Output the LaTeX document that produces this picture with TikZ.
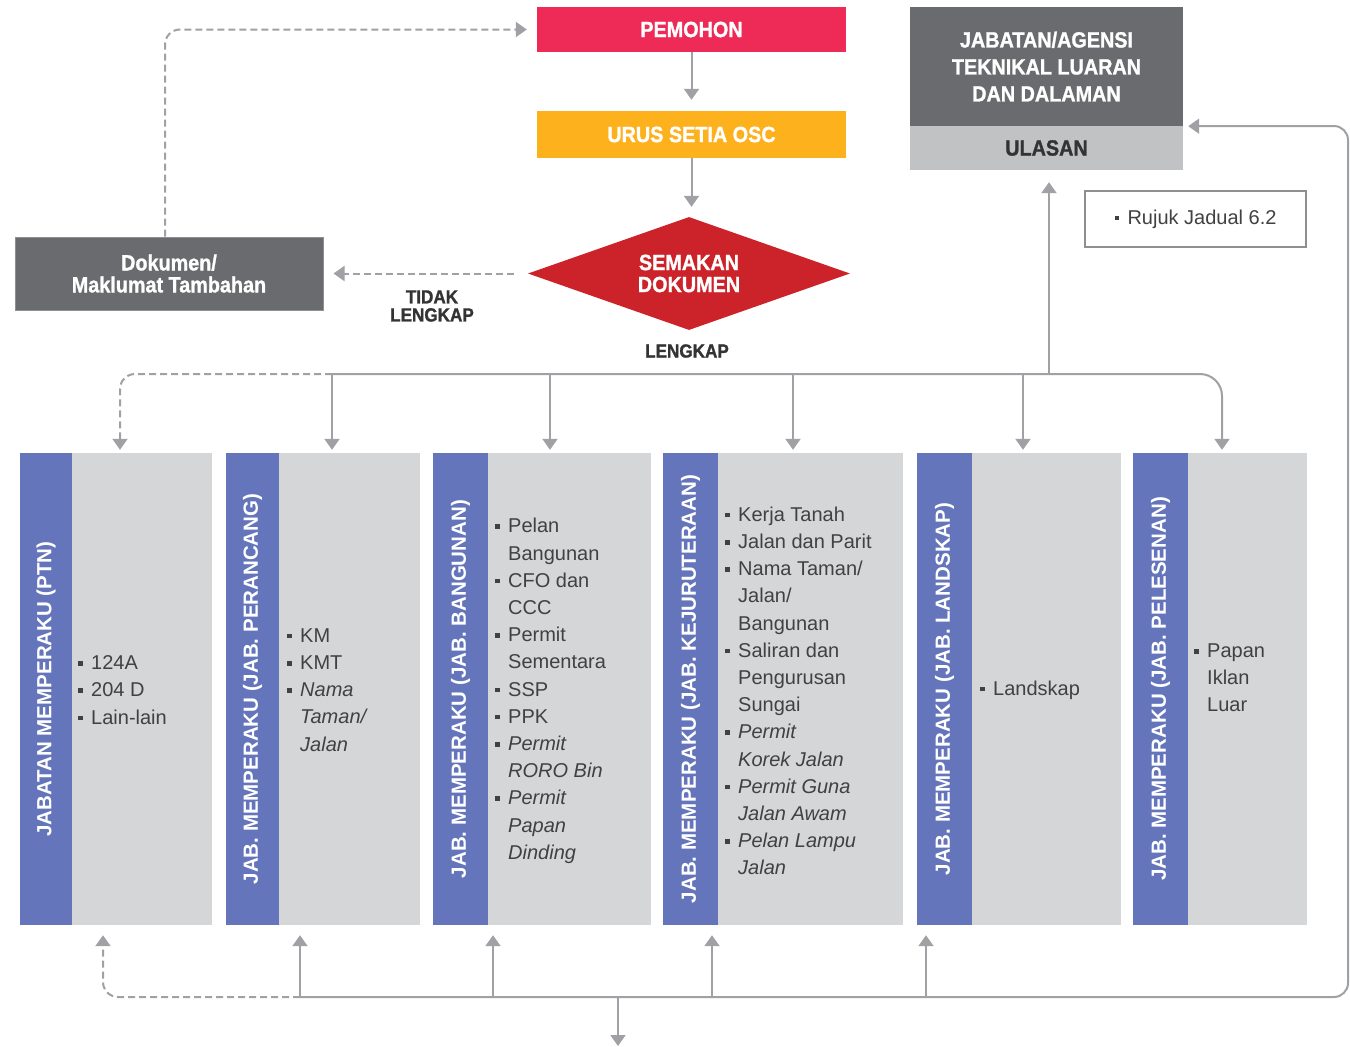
\documentclass[tikz,border=0pt]{standalone}
\usepackage{fontspec}
\setmainfont{Liberation Sans}
\newfontfamily\hb[FakeStretch=0.9,FakeBold=1.2]{Liberation Sans}
\usetikzlibrary{arrows.meta,shapes.geometric}
\definecolor{pemc}{HTML}{EE2A56}
\definecolor{oscc}{HTML}{FDB11D}
\definecolor{semc}{HTML}{CC2229}
\definecolor{dgr}{HTML}{6A6B6E}
\definecolor{lgr}{HTML}{C1C2C4}
\definecolor{blu}{HTML}{6575BB}
\definecolor{cgr}{HTML}{D5D6D8}
\definecolor{lnc}{HTML}{A0A1A4}
\definecolor{txt}{HTML}{414042}
\definecolor{lbl}{HTML}{333333}
\definecolor{brd}{HTML}{8E8F91}
\newlength\bw \setlength\bw{13pt}
\newcommand\bl{\makebox[\bw][l]{\rule[4pt]{4.5pt}{4.5pt}}}
\newcommand\ct{\hspace*{\bw}}
\begin{document}
\begin{tikzpicture}[x=1pt,y=-1pt,
 box/.style={inner sep=0pt, align=center, text=white},
 head/.style={font=\hb\bfseries\fontsize{22}{24}\selectfont},
 arr/.style={draw=lnc, line width=2pt, -{Triangle[width=15pt,length=11pt]}},
 darr/.style={arr, dash pattern=on 7pt off 4pt},
 stripbox/.style={fill=blu, inner sep=0pt, minimum height=472pt},
 bodybox/.style={fill=cgr, inner sep=0pt, minimum height=472pt},
 vlab/.style={rotate=90, text=white, font=\bfseries\fontsize{20.5}{22}\selectfont, inner sep=0pt},
 items/.style={anchor=west, align=left, text=txt, font=\fontsize{20}{27.2}\selectfont, inner sep=0pt},
 lab/.style={text=lbl, align=center, font=\hb\bfseries\fontsize{19}{18}\selectfont, inner sep=0pt}]
\useasboundingbox (0,0) rectangle (1350,1047);
\fill[white] (0,0) rectangle (1350,1047);

% top flow
\node[box, head, fill=pemc, minimum width=309pt, minimum height=45pt] (pem) at (691.5,29.5) {PEMOHON};
\node[box, head, fill=oscc, minimum width=309pt, minimum height=47pt] (osc) at (691.5,134.5) {URUS SETIA OSC};
\node[box, fill=semc, diamond, aspect=2.85, minimum width=322pt, minimum height=113pt] (sem) at (689,273.5) {};
\node[box, font=\hb\bfseries\fontsize{22}{22}\selectfont] at (sem) {SEMAKAN\\DOKUMEN};
\node[box, font=\hb\bfseries\fontsize{22}{22}\selectfont, fill=dgr, draw=brd, line width=1pt, minimum width=308pt, minimum height=73pt] (dok) at (169,273.5) {Dokumen/\\Maklumat Tambahan};
\node[lab] (tl) at (432,306) {TIDAK\\LENGKAP};
\node[lab] (lk) at (687,351) {LENGKAP};

\node[box, fill=dgr, minimum width=273pt, minimum height=119pt, font=\hb\bfseries\fontsize{22}{27}\selectfont] (jab) at (1046.5,66.5) {JABATAN/AGENSI\\TEKNIKAL LUARAN\\DAN DALAMAN};
\node[box, fill=lgr, text=lbl, minimum width=273pt, minimum height=44pt, head] (ulas) at (1046.5,148) {ULASAN};
\node[fill=white, draw=brd, line width=1.5pt, inner sep=0pt, minimum width=221pt, minimum height=56pt, text=txt, font=\fontsize{20}{24}\selectfont] (ruj) at (1195.5,219) {\bl Rujuk Jadual 6.2};

% columns
\node[bodybox, minimum width=192pt] (c1) at (116,689) {};
\node[stripbox, minimum width=52pt] (s1) at (46,689) {};
\node[vlab] at (s1) {JABATAN MEMPERAKU (PTN)};
\node[items] (i1) at (78,690) {\bl 124A\\\bl 204 D\\\bl Lain-lain};

\node[bodybox, minimum width=194pt] (c2) at (323,689) {};
\node[stripbox, minimum width=53pt] (s2) at (252.5,689) {};
\node[vlab] at (s2) {JAB. MEMPERAKU (JAB. PERANCANG)};
\node[items] (i2) at (287,690) {\bl KM\\\bl KMT\\\bl\textit{Nama}\\\ct\textit{Taman/}\\\ct\textit{Jalan}};

\node[bodybox, minimum width=218pt] (c3) at (542,689) {};
\node[stripbox, minimum width=55pt] (s3) at (460.5,689) {};
\node[vlab] at (s3) {JAB. MEMPERAKU (JAB. BANGUNAN)};
\node[items] (i3) at (495,691) {\bl Pelan\\\ct Bangunan\\\bl CFO dan\\\ct CCC\\\bl Permit\\\ct Sementara\\\bl SSP\\\bl PPK\\\bl\textit{Permit}\\\ct\textit{RORO Bin}\\\bl\textit{Permit}\\\ct\textit{Papan}\\\ct\textit{Dinding}};

\node[bodybox, minimum width=240pt] (c4) at (783,689) {};
\node[stripbox, minimum width=55pt] (s4) at (690.5,689) {};
\node[vlab] at (s4) {JAB. MEMPERAKU (JAB. KEJURUTERAAN)};
\node[items] (i4) at (725,691) {\bl Kerja Tanah\\\bl Jalan dan Parit\\\bl Nama Taman/\\\ct Jalan/\\\ct Bangunan\\\bl Saliran dan\\\ct Pengurusan\\\ct Sungai\\\bl\textit{Permit}\\\ct\textit{Korek Jalan}\\\bl\textit{Permit Guna}\\\ct\textit{Jalan Awam}\\\bl\textit{Pelan Lampu}\\\ct\textit{Jalan}};

\node[bodybox, minimum width=204pt] (c5) at (1019,689) {};
\node[stripbox, minimum width=55pt] (s5) at (944.5,689) {};
\node[vlab] at (s5) {JAB. MEMPERAKU (JAB. LANDSKAP)};
\node[items] (i5) at (980,690) {\bl Landskap};

\node[bodybox, minimum width=174pt] (c6) at (1220,689) {};
\node[stripbox, minimum width=55pt] (s6) at (1160.5,689) {};
\node[vlab] at (s6) {JAB. MEMPERAKU (JAB. PELESENAN)};
\node[items] (i6) at (1194,678) {\bl Papan\\\ct Iklan\\\ct Luar};

% connectors top
\draw[arr, shorten >=11pt] (pem) -- (osc);
\draw[arr, shorten >=10pt] (osc.south) -- (osc.south |- sem.north);
\draw[darr, shorten <=14pt, shorten >=10pt] (sem.west) -- (dok.east);
\draw[darr, rounded corners=15pt, shorten >=10pt] ([xshift=-4pt]dok.north) -- ([xshift=-4pt]dok.north |- pem.west) -- (pem.west);

% top bus
\coordinate (t0) at (120,374);
\coordinate (t1) at (332,374);
\coordinate (t2) at (550,374);
\coordinate (t3) at (793,374);
\coordinate (tu) at (1049,374);
\coordinate (t4) at (1023,374);
\coordinate (t5) at (1222,374);
\draw[arr, rounded corners=22pt, shorten >=3pt] (t1) -- (t5) -- (t5 |- c6.north);
\draw[darr, rounded corners=15pt, shorten >=3pt] (t1) -- (t0) -- (t0 |- c1.north);
\draw[arr, shorten >=3pt] (t1) -- (t1 |- c2.north);
\draw[arr, shorten >=3pt] (t2) -- (t2 |- c3.north);
\draw[arr, shorten >=3pt] (t3) -- (t3 |- c4.north);
\draw[arr, shorten >=3pt] (t4) -- (t4 |- c5.north);
\draw[arr, shorten >=12pt] (tu) -- (tu |- ulas.south);

% bottom bus
\coordinate (u0) at (103,997);
\coordinate (u1) at (300,997);
\coordinate (u2) at (493,997);
\coordinate (u3) at (712,997);
\coordinate (u4) at (926,997);
\coordinate (ud) at (618,997);
\coordinate (uout) at (618,1046);
\coordinate (rb) at (1348,997);
\coordinate (rt) at (1348,126);
\draw[arr, rounded corners=14pt, shorten >=5pt] (u1) -- (rb) -- (rt) -- (jab.south east);
\draw[darr, rounded corners=15pt, shorten >=10pt] (u1) -- (u0) -- (u0 |- c1.south);
\draw[arr, shorten >=10pt] (u1) -- (u1 |- c2.south);
\draw[arr, shorten >=10pt] (u2) -- (u2 |- c3.south);
\draw[arr, shorten >=10pt] (u3) -- (u3 |- c4.south);
\draw[arr, shorten >=10pt] (u4) -- (u4 |- c5.south);
\draw[arr] (ud) -- (uout);
\end{tikzpicture}
\end{document}
